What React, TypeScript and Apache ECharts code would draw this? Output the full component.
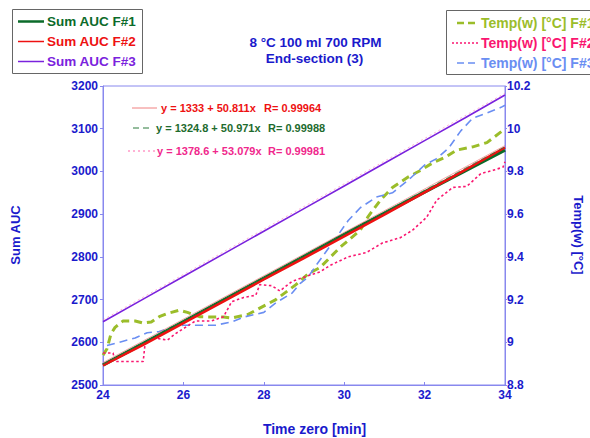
import React, { useEffect, useRef } from 'react';
import * as echarts from 'echarts';

// ---------- data ----------
const sumTime = [24, 25, 26, 27, 28, 29, 30, 31, 32, 33, 34];
const sumAucF1 = [2547, 2597, 2648, 2699, 2750, 2801, 2852, 2902, 2952, 3001, 3050];
const sumAucF2 = [2546, 2594, 2645, 2696, 2747, 2797, 2848, 2899, 2951, 3003, 3056];
const sumAucF3 = [2648, 2701, 2754, 2807, 2860, 2913, 2966, 3019, 3072, 3125, 3179];

const tempF1Time = [24.0, 24.1, 24.2, 24.3, 24.5, 24.8, 25.0, 25.2, 25.4, 25.6, 25.9, 26.1, 26.4, 26.7, 27.0, 27.2, 27.6, 27.9, 28.3, 28.8, 29.1, 29.4, 29.9, 30.4, 30.6, 30.9, 31.2, 31.6, 31.9, 32.2, 32.5, 32.8, 33.2, 33.55, 33.9, 34.0];
const tempF1 = [8.94, 8.97, 9.04, 9.07, 9.1, 9.1, 9.09, 9.095, 9.12, 9.135, 9.15, 9.14, 9.12, 9.118, 9.118, 9.114, 9.13, 9.16, 9.2, 9.27, 9.32, 9.35, 9.445, 9.525, 9.59, 9.665, 9.725, 9.775, 9.805, 9.84, 9.865, 9.9, 9.915, 9.935, 9.985, 10.0];

const tempF2Time = [24.0, 24.25, 24.3, 25.0, 25.05, 25.3, 25.6, 25.8, 26.05, 26.3, 26.7, 27.0, 27.2, 27.5, 27.8, 27.9, 28.2, 28.4, 28.7, 29.0, 29.4, 29.65, 30.1, 30.55, 30.95, 31.4, 31.7, 32.05, 32.3, 32.7, 33.05, 33.4, 33.7, 33.95, 34.0];
const tempF2 = [8.95, 8.95, 8.91, 8.91, 9.0, 9.02, 9.01, 9.04, 9.07, 9.1, 9.1, 9.12, 9.19, 9.21, 9.22, 9.27, 9.265, 9.24, 9.285, 9.305, 9.33, 9.36, 9.4, 9.42, 9.465, 9.49, 9.525, 9.585, 9.665, 9.725, 9.73, 9.79, 9.805, 9.82, 9.845];

const tempF3Time = [24.1, 24.5, 24.8, 25.1, 25.4, 25.7, 26.0, 26.4, 26.8, 27.2, 27.5, 28.0, 28.3, 28.7, 28.9, 29.1, 29.3, 29.8, 30.1, 30.4, 30.8, 31.2, 31.6, 32.0, 32.3, 32.6, 32.9, 33.2, 33.5, 33.9, 34.0];
const tempF3 = [8.985, 9.005, 9.02, 9.045, 9.05, 9.07, 9.08, 9.08, 9.08, 9.095, 9.118, 9.14, 9.185, 9.23, 9.275, 9.305, 9.36, 9.49, 9.57, 9.63, 9.68, 9.7, 9.76, 9.83, 9.86, 9.91, 9.99, 10.05, 10.07, 10.1, 10.11];

// regression fits (as printed on the chart)
const fitIntercepts = [1333, 1324.8, 1378.6];
const fitSlopes = [50.811, 50.971, 53.079];
const fitR = ['0.99964', '0.99988', '0.99981'];

const xTicks = { min: 24, max: 34, interval: 2 };
const yLeftTicks = { min: 2500, max: 3200, interval: 100 };
const yRightTicks = { min: 8.8, max: 10.2, interval: 0.2 };

const sumNames = ['Sum AUC F#1', 'Sum AUC F#2', 'Sum AUC F#3'];
const tempNames = ['Temp(w) [°C] F#1', 'Temp(w) [°C] F#2', 'Temp(w) [°C] F#3'];

// ---------- styles ----------
const FONT = '"Liberation Sans", Arial, sans-serif';
const TXT = '#1a1acc';
const AXIS = '#8888ee';
const C_GREEN = '#0b6b2a';
const C_RED = '#ee1111';
const C_PURPLE = '#7a22dd';
const C_YG = '#9bbd2a';
const C_PINK = '#fa1670';
const C_BLUE = '#6a8ef2';

const zip = (xs: number[], ys: number[]) => xs.map((x, i) => [x, ys[i]]);

export default function App() {
  const ref = useRef<HTMLDivElement>(null);
  useEffect(() => {
    const chart = echarts.init(ref.current!, null, { renderer: 'svg' });

    const fitLine = (k: number) => [
      [xTicks.min, fitIntercepts[k] + fitSlopes[k] * xTicks.min],
      [xTicks.max, fitIntercepts[k] + fitSlopes[k] * xTicks.max],
    ];

    const label = { color: TXT, fontWeight: 'bold', fontSize: 12, fontFamily: FONT };

    const fitColors = ['#f08080', '#2a7a3a', '#ff66aa'];
    const fitTextColors = [C_RED, '#1e6b2e', '#f0288c'];
    const fitDash: any[] = ['solid', [6, 4], [2, 3]];
    const fitRowY = [108, 128, 151];
    const fitSample = [[132, 157], [133, 153], [128, 155]];
    const fitTextX = [161, 156, 157];
    const fitRX = [264, 268, 268];

    const graphics: any[] = [];
    // left legend
    graphics.push({ type: 'rect', shape: { x: 12.5, y: 9.5, width: 130, height: 64 }, style: { fill: '#fff', stroke: '#666', lineWidth: 1 }, z: 100 });
    const sumColors = [C_GREEN, C_RED, C_PURPLE];
    const sumW = [2.5, 1.5, 1.5];
    [21.5, 41.5, 61.5].forEach((y, i) => {
      graphics.push({ type: 'line', shape: { x1: 18, y1: y, x2: 44, y2: y }, style: { stroke: sumColors[i], lineWidth: sumW[i] }, z: 101 });
      graphics.push({ type: 'text', x: 47, y, style: { text: sumNames[i], fill: sumColors[i], font: `bold 13.5px ${FONT}`, textAlign: 'left', textVerticalAlign: 'middle' }, z: 101 });
    });
    // right legend
    graphics.push({ type: 'rect', shape: { x: 446.5, y: 10.5, width: 160, height: 64 }, style: { fill: '#fff', stroke: '#666', lineWidth: 1 }, z: 100 });
    const tColors = [C_YG, C_PINK, C_BLUE];
    const tDash: any[] = [[7, 4], [2, 2], [7, 4]];
    const tW = [2.5, 1.5, 1.5];
    const tStart = [457, 452, 457];
    [23, 43, 63].forEach((y, i) => {
      graphics.push({ type: 'line', shape: { x1: tStart[i], y1: y, x2: 478, y2: y }, style: { stroke: tColors[i], lineWidth: tW[i], lineDash: tDash[i] }, z: 101 });
      graphics.push({ type: 'text', x: 481, y, style: { text: tempNames[i], fill: tColors[i], font: `bold 14px ${FONT}`, textAlign: 'left', textVerticalAlign: 'middle' }, z: 101 });
    });
    // regression annotations
    fitRowY.forEach((y, i) => {
      graphics.push({ type: 'line', shape: { x1: fitSample[i][0], y1: y, x2: fitSample[i][1], y2: y }, style: { stroke: fitColors[i], lineWidth: 1, lineDash: fitDash[i] === 'solid' ? null : fitDash[i] }, z: 101 });
      graphics.push({ type: 'text', x: fitTextX[i], y, style: { text: `y = ${fitIntercepts[i]} + ${fitSlopes[i]}x`, fill: fitTextColors[i], font: `bold 11px ${FONT}`, textAlign: 'left', textVerticalAlign: 'middle' }, z: 101 });
      graphics.push({ type: 'text', x: fitRX[i], y, style: { text: `R= ${fitR[i]}`, fill: fitTextColors[i], font: `bold 11px ${FONT}`, textAlign: 'left', textVerticalAlign: 'middle' }, z: 101 });
    });
    // titles & axis names
    graphics.push({ type: 'text', x: 315.5, y: 42, style: { text: '8 °C 100 ml 700 RPM', fill: TXT, font: `bold 13.5px ${FONT}`, textAlign: 'center', textVerticalAlign: 'middle' } });
    graphics.push({ type: 'text', x: 314.5, y: 58, style: { text: 'End-section (3)', fill: TXT, font: `bold 13.5px ${FONT}`, textAlign: 'center', textVerticalAlign: 'middle' } });
    graphics.push({ type: 'text', x: 15, y: 235, rotation: Math.PI / 2, style: { text: 'Sum AUC', fill: TXT, font: `bold 13px ${FONT}`, textAlign: 'center', textVerticalAlign: 'middle' } });
    graphics.push({ type: 'text', x: 578, y: 235, rotation: -Math.PI / 2, style: { text: 'Temp(w) [°C]', fill: TXT, font: `bold 13px ${FONT}`, textAlign: 'center', textVerticalAlign: 'middle' } });
    graphics.push({ type: 'text', x: 314.5, y: 429, style: { text: 'Time zero [min]', fill: TXT, font: `bold 14px ${FONT}`, textAlign: 'center', textVerticalAlign: 'middle' } });

    const fmt1 = (v: number) => String(parseFloat(v.toFixed(1)));

    chart.setOption({
      animation: false,
      backgroundColor: '#fff',
      grid: { left: 103, right: 85, top: 86, bottom: 53, show: true, borderColor: AXIS, borderWidth: 1, backgroundColor: 'transparent' },
      xAxis: {
        type: 'value', ...xTicks,
        axisLine: { lineStyle: { color: AXIS } },
        axisTick: { inside: true, length: 3, lineStyle: { color: AXIS } },
        splitLine: { show: false },
        axisLabel: { ...label, margin: 4, formatter: (v: number) => String(v) },
      },
      yAxis: [
        {
          type: 'value', ...yLeftTicks, position: 'left',
          axisLine: { show: true, lineStyle: { color: AXIS } },
          axisTick: { show: true, length: 3, lineStyle: { color: AXIS } },
          splitLine: { show: false },
          axisLabel: { ...label, margin: 5, formatter: (v: number) => String(v) },
        },
        {
          type: 'value', ...yRightTicks, position: 'right',
          axisLine: { show: true, lineStyle: { color: AXIS } },
          axisTick: { show: true, length: 2, lineStyle: { color: AXIS } },
          splitLine: { show: false },
          axisLabel: { ...label, margin: 2, formatter: fmt1 },
        },
      ],
      graphic: graphics,
      series: [
        { name: tempNames[0], type: 'line', yAxisIndex: 1, data: zip(tempF1Time, tempF1), showSymbol: false, lineStyle: { color: C_YG, width: 3, type: [8, 5] }, z: 2 },
        { name: tempNames[2], type: 'line', yAxisIndex: 1, data: zip(tempF3Time, tempF3), showSymbol: false, lineStyle: { color: C_BLUE, width: 1.6, type: [8, 5] }, z: 2 },
        { name: tempNames[1], type: 'line', yAxisIndex: 1, data: zip(tempF2Time, tempF2), showSymbol: false, lineStyle: { color: C_PINK, width: 1.6, type: [2.5, 2.5] }, z: 2 },
        { name: sumNames[0], type: 'line', yAxisIndex: 0, data: zip(sumTime, sumAucF1), showSymbol: false, lineStyle: { color: C_GREEN, width: 3.5 }, z: 3 },
        { name: sumNames[1], type: 'line', yAxisIndex: 0, data: zip(sumTime, sumAucF2), showSymbol: false, lineStyle: { color: C_RED, width: 2.5 }, z: 3 },
        { name: sumNames[2], type: 'line', yAxisIndex: 0, data: zip(sumTime, sumAucF3), showSymbol: false, lineStyle: { color: C_PURPLE, width: 1.6 }, z: 3 },
        { name: 'fit F#2', type: 'line', yAxisIndex: 0, data: fitLine(0), showSymbol: false, lineStyle: { color: fitColors[0], width: 1, opacity: 0.7 }, z: 4 },
        { name: 'fit F#1', type: 'line', yAxisIndex: 0, data: fitLine(1), showSymbol: false, lineStyle: { color: fitColors[1], width: 1, type: [6, 4], opacity: 0.7 }, z: 4 },
        { name: 'fit F#3', type: 'line', yAxisIndex: 0, data: fitLine(2), showSymbol: false, lineStyle: { color: fitColors[2], width: 1, type: [2, 3], opacity: 0.5 }, z: 4 },
      ],
    });
    return () => chart.dispose();
  }, []);
  return <div ref={ref} style={{ position: 'absolute', left: 0, top: 0, width: 590, height: 438 }} />;
}
